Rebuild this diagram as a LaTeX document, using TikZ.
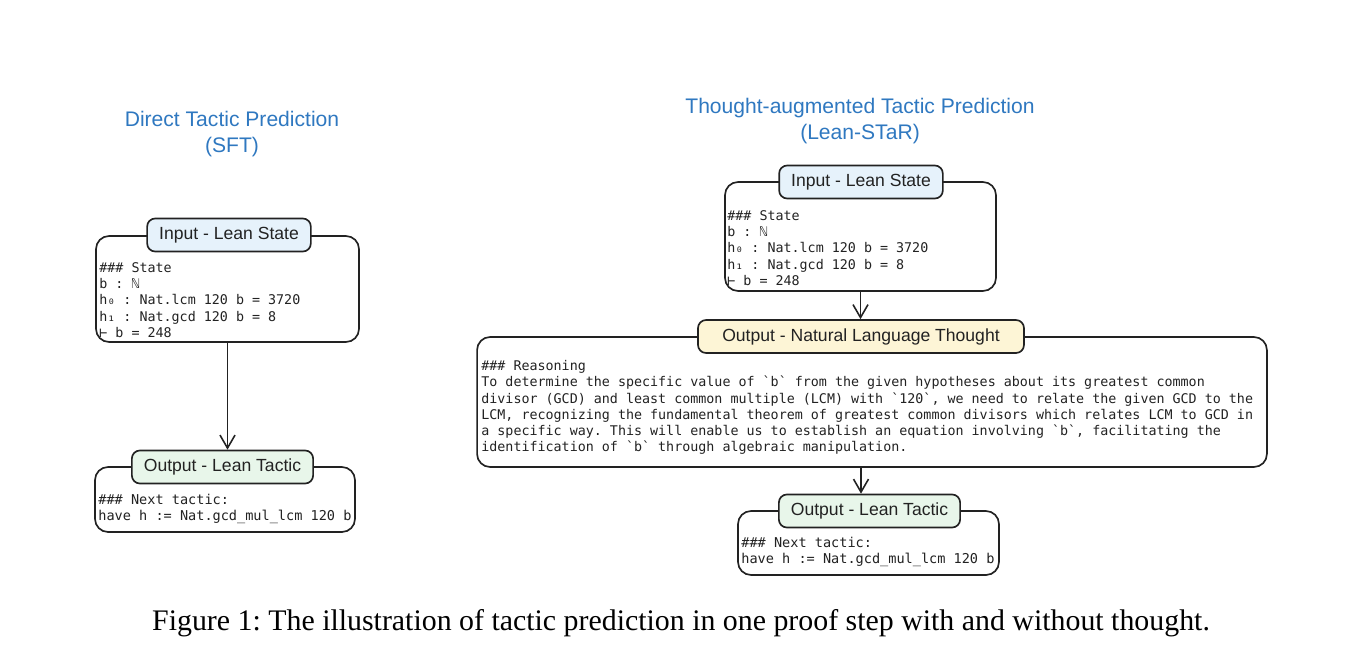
\documentclass[tikz,border=0pt]{standalone}
\usepackage{fontspec}
\setmainfont{Liberation Serif}
\setsansfont{Liberation Sans}
\setmonofont{DejaVu Sans Mono}
\usepackage{tikz}
\usetikzlibrary{arrows.meta,positioning,calc}
\definecolor{LSBlue}   {HTML}{2F78C0}
\definecolor{LSInk}    {HTML}{222222}
\definecolor{LSInFill} {HTML}{E6F2FB}
\definecolor{LSThFill} {HTML}{FDF5D6}
\definecolor{LSOutFill}{HTML}{E8F6EA}

\tikzset{
  panel/.style={draw=LSInk,line width=0.95pt,rounded corners=0.26cm,fill=white},
  tag/.style={draw=LSInk,line width=0.95pt,rounded corners=0.16cm,
    font=\sffamily\fontsize{10}{12}\selectfont,text=LSInk,
    minimum height=0.66cm,inner xsep=0.24cm},
  code/.style={font=\ttfamily\fontsize{7.6}{9.25}\selectfont,text=LSInk,
    align=left,inner sep=0pt,anchor=north west},
  tactic/.style={code,font=\ttfamily\fontsize{7.72}{9.25}\selectfont},
  heading/.style={font=\sffamily\fontsize{12}{14.7}\selectfont,text=LSBlue,align=center},
  flow/.style={draw=LSInk,line width=0.9pt,-{Straight Barb[length=2.6mm,width=3mm,line width=0.9pt]}}
}

\begin{document}
\begin{tikzpicture}[x=0.02cm,y=-0.02cm]
    \useasboundingbox (0,0) rectangle (1362,670);

    % Direct tactic prediction
    \node[heading] (lhead) at (232,134) {Direct Tactic Prediction\\(SFT)};

    \node[panel,minimum width=5.26cm,minimum height=2.12cm] (lstate) at (227.5,289) {};
    \node[code] (lstatetxt) at (99,262)
      {\#\#\# State\\b : ℕ\\h₀ : Nat.lcm 120 b = 3720\\h₁ : Nat.gcd 120 b = 8\\⊢ b = 248};
    \node[tag,fill=LSInFill] (lstatetag) at (229,235) {Input - Lean State};

    \node[panel,minimum width=5.2cm,minimum height=1.3cm] (ltactic) at (225,499.5) {};
    \node[tactic] (ltactictxt) at (98,494)
      {\#\#\# Next tactic:\\have h := Nat.gcd\_mul\_lcm 120 b};
    \node[tag,fill=LSOutFill] (ltactictag) at (222.5,467) {Output - Lean Tactic};

    \draw[flow] (lstate.south) -- (lstate.south |- ltactictag.north);

    % Thought-augmented tactic prediction
    \node[heading] (rhead) at (860,121) {Thought-augmented Tactic Prediction\\(Lean-STaR)};

    \node[panel,minimum width=5.42cm,minimum height=2.18cm] (rstate) at (860.5,236.5) {};
    \node[code] (rstatetxt) at (727,210)
      {\#\#\# State\\b : ℕ\\h₀ : Nat.lcm 120 b = 3720\\h₁ : Nat.gcd 120 b = 8\\⊢ b = 248};
    \node[tag,fill=LSInFill] (rstatetag) at (861,182) {Input - Lean State};

    \node[panel,minimum width=15.8cm,minimum height=2.6cm] (thought) at (872,402) {};
    \node[code] (thoughttxt) at (481,360)
      {\#\#\# Reasoning\\
       To determine the specific value of `b` from the given hypotheses about its greatest common\\
       divisor (GCD) and least common multiple (LCM) with `120`, we need to relate the given GCD to the\\
       LCM, recognizing the fundamental theorem of greatest common divisors which relates LCM to GCD in\\
       a specific way. This will enable us to establish an equation involving `b`, facilitating the\\
       identification of `b` through algebraic manipulation.};
    \node[tag,fill=LSThFill,minimum width=6.52cm] (thoughttag) at (861,336.5) {Output - Natural Language Thought};

    \node[panel,minimum width=5.22cm,minimum height=1.28cm] (rtactic) at (868.5,543) {};
    \node[tactic] (rtactictxt) at (741,537)
      {\#\#\# Next tactic:\\have h := Nat.gcd\_mul\_lcm 120 b};
    \node[tag,fill=LSOutFill] (rtactictag) at (869.5,511) {Output - Lean Tactic};

    \draw[flow] (rstate.south) -- (rstate.south |- thoughttag.north);
    \draw[flow] (thoughttag |- thought.south) -- (thoughttag |- rtactictag.north);

    % Caption
    \node[font=\fontsize{17}{20}\selectfont] (caption) at (681,623)
      {Figure 1:\ The illustration of tactic prediction in one proof step with and without thought.};
\end{tikzpicture}
\end{document}
